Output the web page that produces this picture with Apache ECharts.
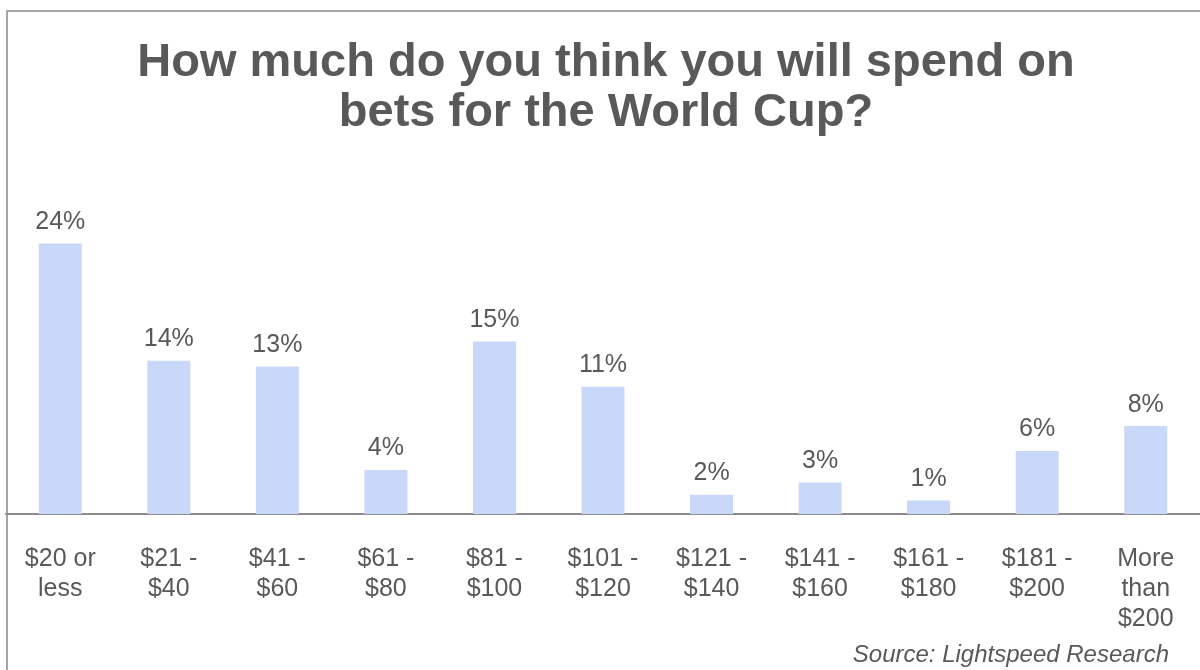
<!DOCTYPE html>
<html><head><meta charset="utf-8">
<script src="https://cdn.jsdelivr.net/npm/echarts@6/dist/echarts.min.js"></script>
<style>html,body{margin:0;padding:0;background:#fff}#c{width:1200px;height:670px}</style>
</head><body><div id="c"></div>
<script>
const categories = ["$20 or\nless","$21 -\n$40","$41 -\n$60","$61 -\n$80","$81 -\n$100","$101 -\n$120","$121 -\n$140","$141 -\n$160","$161 -\n$180","$181 -\n$200","More\nthan\n$200"];
const values = [24, 13.6, 13.1, 3.9, 15.3, 11.3, 1.7, 2.8, 1.2, 5.6, 7.8];
const titleText = "How much do you think you will spend on\nbets for the World Cup?";
const sourceText = "Source: Lightspeed Research";

const chart = echarts.init(document.getElementById('c'));
chart.setOption({
  animation: false,
  title: {
    text: titleText, left: 601, top: 33, textAlign: 'center',
    textStyle: {fontFamily: 'Liberation Sans, Arial', fontSize: 47, fontWeight: 'bold', color: '#595959', lineHeight: 50}
  },
  graphic: [
    {type: 'rect', shape: {x: 7, y: 11, width: 1300, height: 800}, style: {fill: 'none', stroke: '#A6A6A6', lineWidth: 2}, z: -1},
    {type: 'text', right: 31, top: 643, style: {text: sourceText, fontFamily: 'Liberation Sans, Arial', fontSize: 24, fontStyle: 'italic', fill: '#595959'}}
  ],
  grid: {left: 6, right: -5, top: 176, bottom: 156, containLabel: false},
  xAxis: {
    type: 'category', data: categories,
    axisLine: {show: true, lineStyle: {color: '#8C8C8C', width: 2}},
    axisTick: {show: false},
    axisLabel: {interval: 0, color: '#595959', fontFamily: 'Liberation Sans, Arial', fontSize: 25, lineHeight: 30, margin: 30}
  },
  yAxis: {type: 'value', min: 0, max: 30, show: false, splitLine: {show: false}},
  series: [{
    type: 'bar', data: values, barWidth: 43,
    itemStyle: {color: '#C9D8F8'},
    label: {show: true, position: 'top', distance: 9, color: '#595959', fontFamily: 'Liberation Sans, Arial', fontSize: 25,
      formatter: p => Math.round(p.value) + '%'}
  }]
});
</script></body></html>
